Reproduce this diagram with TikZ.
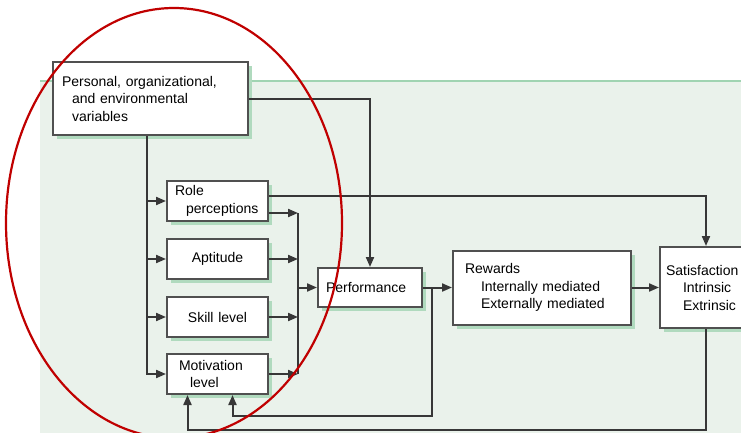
\documentclass[tikz,border=0pt]{standalone}
\usepackage{fontspec}
\setmainfont{Liberation Sans}
\usetikzlibrary{arrows.meta, positioning, shadows}
\definecolor{panelgreen}{RGB}{234,242,235}
\definecolor{panelline}{RGB}{160,212,178}
\definecolor{shadowgreen}{RGB}{176,218,190}
\definecolor{boxgray}{RGB}{80,80,80}
\definecolor{linegray}{RGB}{55,55,55}
\definecolor{ringred}{RGB}{192,0,0}

\begin{document}
\begin{tikzpicture}[
        x=1pt, y=-1pt,
        % Style for the boxes
        blockbox/.style={rectangle, draw=boxgray, line width=2pt, fill=white, align=left, inner xsep=8pt, inner ysep=2pt, font=\fontsize{14}{17.5}\selectfont, drop shadow={shadow xshift=4pt, shadow yshift=-4pt, fill=shadowgreen, opacity=1}},
        % Style for the connectors
        link/.style={draw=linegray, line width=2pt},
        flow/.style={link, -{Triangle[length=10pt, width=8pt]}}
    ]
    \useasboundingbox (0,0) rectangle (741,432);
    \clip (0,0) rectangle (741,432);

    % --- BACKGROUND ---
    \fill[panelgreen] (40,81) rectangle (760,440);
    \draw[panelline, line width=1.5pt] (40,81) -- (741,81);

    % --- INPUTS ---
    \node (personal) [blockbox, text width=179pt, minimum height=73pt] at (150.5,98.5) {\hspace*{1pt}Personal, organizational,\\\hspace*{11pt}and environmental\\\hspace*{11pt}variables};

    \node (role) [blockbox, text width=85pt, minimum height=40pt] at (217.5,201) {Role\\\hspace*{11pt}perceptions};
    \node (aptitude) [blockbox, text width=85pt, minimum height=40pt, align=center, below=16pt of role] {Aptitude};
    \node (skill) [blockbox, text width=85pt, minimum height=40pt, align=center, below=16pt of aptitude] {Skill level};
    \node (motivation) [blockbox, text width=85pt, minimum height=40pt, below=15pt of skill] {\hspace*{4pt}Motivation\\\hspace*{15pt}level};

    % --- OUTCOMES ---
    \node (performance) [blockbox, text width=88pt, minimum height=39pt] at (370,287.5) {Performance};
    \node (rewards) [blockbox, text width=162pt, minimum height=74pt, right=29pt of performance] {\hspace*{4pt}Rewards\\\hspace*{20pt}Internally mediated\\\hspace*{20pt}Externally mediated};
    \node (satisfaction) [blockbox, inner xsep=6pt, text width=118pt, minimum height=81pt, right=27pt of rewards] {Satisfaction\\\hspace*{17pt}Intrinsic\\\hspace*{17pt}Extrinsic};

    % --- CONNECTORS ---
    \coordinate (trunk) at ([xshift=-4pt]personal.south);
    \coordinate (collect) at ([xshift=29pt]role.east);
    \coordinate (roleout) at ([yshift=-12pt]role.east);
    \coordinate (branch) at ([xshift=9pt]performance.east);
    \coordinate (satout) at ([xshift=47pt]satisfaction.south west);
    \coordinate (fbperf) at ([xshift=15pt, yshift=-21pt]motivation.south);
    \coordinate (fbsat) at ([xshift=-30pt, yshift=-35pt]motivation.south);

    \draw[flow] (personal.east) -| (performance.north);
    \draw[flow] (trunk) |- (motivation.west);
    \foreach \blk in {role, aptitude, skill}
        \draw[flow] (trunk |- \blk.west) -- (\blk.west);

    \draw[flow] ([yshift=5pt]role.east) -| ([xshift=47pt]satisfaction.north west);
    \draw[flow] (roleout) -- (collect |- roleout);
    \foreach \blk in {aptitude, skill, motivation}
        \draw[flow] (\blk.east) -- (collect |- \blk.east);
    \draw[link] (collect |- roleout) -- (collect |- motivation.east);
    \draw[flow] (collect |- performance.west) -- (performance.west);

    \draw[flow] (performance.east) -- (rewards.west);
    \draw[flow] (rewards.east) -- (satisfaction.west);
    \draw[flow] (branch) |- (fbperf) -- (fbperf |- motivation.south);
    \draw[flow] (satout) |- (fbsat) -- (fbsat |- motivation.south);

    % --- HIGHLIGHT ---
    \draw[ringred, line width=2.2pt] (174,223) ellipse [x radius=168pt, y radius=215pt];

\end{tikzpicture}
\end{document}
